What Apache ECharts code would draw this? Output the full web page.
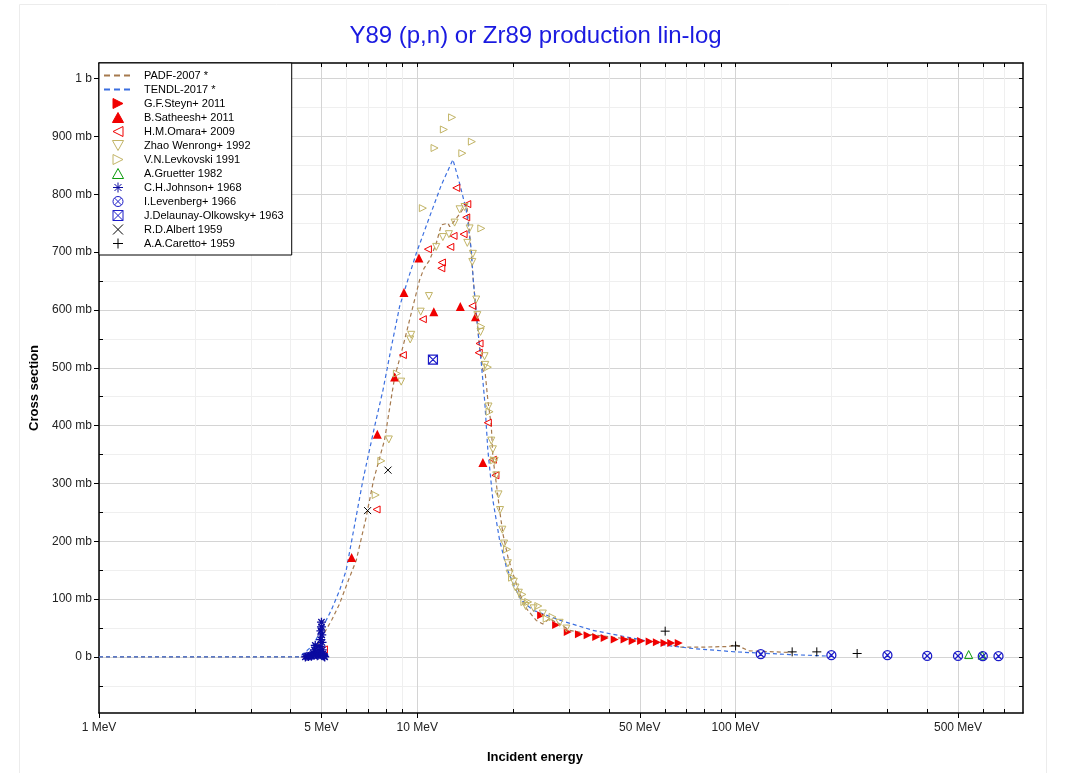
<!DOCTYPE html>
<html>
<head>
<meta charset="utf-8">
<script src="https://cdn.jsdelivr.net/npm/echarts@6/dist/echarts.min.js"></script>
<style>
html, body { margin: 0; padding: 0; background: #fff; }
#chart { width: 1071px; height: 773px; }
</style>
</head>
<body>
<div id="chart"></div>
<script>
// tick positions
var xMajor = [1, 5, 10, 50, 100, 500]
var xMinor = [2, 3, 4, 6, 7, 8, 9, 20, 30, 40, 60, 70, 80, 90, 200, 300, 400, 600, 700]
var yMajor = [0, 100, 200, 300, 400, 500, 600, 700, 800, 900, 1000]
var yMinor = [-50, 50, 150, 250, 350, 450, 550, 650, 750, 850, 950]

// evaluated curves  [MeV, mb]
var padf2007 = [[1, 0], [4.49, 0], [4.8, 15], [5.05, 37], [5.4, 65], [5.7, 92], [6.1, 135], [6.43, 167], [6.9, 240],
  [7.29, 306], [7.89, 375], [8.49, 484], [9.01, 536], [9.57, 594], [10.17, 652], [10.5, 672], [10.93, 686], [11.47, 715],
  [11.9, 747], [12.48, 750], [12.65, 744], [13.26, 758], [14.08, 778], [14.3, 783], [14.6, 732], [14.95, 660], [15.32, 594],
  [15.69, 536], [16.07, 496], [16.35, 490], [16.66, 444], [17.08, 400], [17.28, 345], [17.71, 300], [18.14, 254], [18.58, 213],
  [19.26, 173], [19.97, 144], [20.96, 110], [22, 84], [23.65, 63], [24.8, 57], [26, 66], [28, 57], [30.1, 46], [35, 39],
  [40.2, 34.6], [50, 29], [60, 24], [66.6, 17], [80, 17], [95, 18], [100, 21], [110, 10.5], [150, 7.5]]
var tendl2017 = [[1, 0], [4.27, 0], [4.7, 20], [5.05, 52], [5.37, 81], [5.7, 115], [5.98, 150], [6.75, 306], [7.34, 398],
  [7.8, 461], [8.29, 536], [8.8, 606], [9.34, 652], [9.93, 698], [10.93, 761], [11.9, 816], [12.94, 860], [13.58, 819],
  [14.25, 773], [14.78, 704], [15, 650], [15.5, 565], [15.89, 508], [16.3, 440], [16.66, 358], [17.28, 271], [18.14, 202],
  [19.03, 156], [20.21, 121], [21.21, 98], [23.07, 81], [28, 63.5], [35.6, 46], [50, 30], [60.5, 20], [73.4, 14.5],
  [100, 8.7], [147.6, 4.1], [200, 1.2]]

// measurements [MeV, mb]
var steyn2011 = [[24.5, 72], [27.3, 55], [29.7, 43], [32.2, 39], [34.3, 37.5], [36.5, 34.6], [38.8, 32.9], [41.7, 30],
  [44.8, 30], [47.5, 27.7], [50.5, 27.7], [53.7, 26.6], [56.6, 25.4], [59.8, 24.2], [62.8, 24.2], [66.3, 24.2]]
var satheesh2011 = [[6.22, 172], [7.49, 385], [8.49, 484], [9.08, 630], [10.12, 690], [11.27, 597], [13.65, 606],
  [15.24, 588], [16.07, 336]]
var omara2009 = [[5.09, 13], [7.45, 255], [9.01, 522], [10.41, 584], [10.8, 705], [11.9, 672], [11.95, 682], [12.7, 709],
  [13.0, 728], [13.26, 811], [13.98, 731], [14.25, 760], [14.36, 783], [14.89, 607], [15.6, 526], [15.69, 542],
  [16.66, 405], [17.28, 341], [17.6, 314]]
var zhao1992 = [[8.14, 376], [8.9, 476], [9.5, 549], [9.57, 557], [10.25, 597], [10.88, 624], [11.47, 709], [12.03, 726],
  [12.57, 731], [13.1, 751], [13.58, 774], [14.08, 778], [14.36, 716], [14.6, 741], [14.95, 697], [14.89, 683],
  [15.32, 618], [15.44, 591], [15.8, 562], [16.27, 520], [16.35, 505], [16.74, 433], [17.08, 374], [17.28, 359],
  [17.5, 339], [17.71, 314], [18.0, 281], [18.2, 254], [18.5, 220], [18.74, 196], [19.26, 162], [19.5, 144], [20.1, 130],
  [20.35, 120], [20.85, 111], [21.9, 88], [23.2, 84], [24.8, 75], [28.0, 59], [29.4, 49]]
var levkovski1991 = [[7.4, 280], [7.71, 339], [8.63, 490], [10.41, 776], [11.33, 880], [12.12, 912], [12.86, 933],
  [13.85, 871], [14.84, 891], [15.89, 741], [15.89, 571], [16.66, 501], [16.87, 424], [17.4, 340], [19.15, 186],
  [19.85, 137], [21.4, 108], [21.7, 95], [22.3, 95], [24.0, 88], [25.5, 66], [26.6, 69]]
var gruetter1982 = [[540, 4], [595, 3]]
var johnson1968 = [[4.45, 0], [4.5, 1], [4.55, 0.5], [4.6, 2], [4.65, 1], [4.7, 3], [4.72, 6], [4.75, 12], [4.78, 20],
  [4.8, 8], [4.82, 4], [4.85, 2], [4.88, 3], [4.9, 5], [4.92, 10], [4.95, 18], [4.97, 30], [4.98, 45], [5.0, 52],
  [5.0, 60], [5.01, 38], [5.02, 25], [5.03, 12], [5.05, 5], [5.08, 2], [5.1, 1], [5.12, 0]]
var levenberg1966 = [[120, 4.7], [200, 3], [300, 3], [400, 1.7], [500, 1.7], [598, 1.2], [670, 1.2]]
var delaunay1963 = [[11.2, 514]]
var albert1959 = [[6.98, 253], [8.09, 323]]
var caretto1959 = [[60.1, 44.5], [100, 19], [150.6, 8.7], [180, 8.7], [241, 5.9]]

var symRight = 'path://M0,0 L10,5 L0,10 Z'
var symLeft = 'path://M10,0 L0,5 L10,10 Z'
var symDown = 'path://M0,0 L10,0 L5,9 Z'
var symUp = 'path://M5,0 L10,9 L0,9 Z'
var symStar = 'path://M5,0 L5,10 M0,5 L10,5 M1.5,1.5 L8.5,8.5 M8.5,1.5 L1.5,8.5'
var symCircX = 'path://M10,5 A5,5 0 1 1 0,5 A5,5 0 1 1 10,5 Z M1.6,1.6 L8.4,8.4 M8.4,1.6 L1.6,8.4'
var symSqX = 'path://M0,0 L10,0 L10,10 L0,10 Z M0,0 L10,10 M10,0 L0,10'
var symX = 'path://M0,0 L10,10 M10,0 L0,10'
var symPlus = 'path://M5,0 L5,10 M0,5 L10,5'

var clear = 'rgba(0,0,0,0)'

function curve(name, data, color) {
  return {
    name: name, type: 'line', data: data, xAxisIndex: 0, yAxisIndex: 0,
    showSymbol: false, symbol: 'none', z: 3,
    itemStyle: { color: color },
    lineStyle: { color: color, width: 1.2, type: [4, 3] }
  }
}

function pts(name, data, symbol, size, fill, stroke, bw) {
  return {
    name: name, type: 'scatter', data: data, xAxisIndex: 0, yAxisIndex: 0,
    symbol: symbol, symbolSize: size, z: 4,
    itemStyle: { color: fill, borderColor: stroke, borderWidth: bw, opacity: 1 }
  }
}

var series = [
  curve('PADF-2007 *', padf2007, '#a67a4e'),
  curve('TENDL-2017 *', tendl2017, '#3b6fe0'),
  pts('G.F.Steyn+ 2011', steyn2011, symRight, 8, '#f00000', '#f00000', 0),
  pts('B.Satheesh+ 2011', satheesh2011, symUp, 9, '#f00000', '#f00000', 0),
  pts('H.M.Omara+ 2009', omara2009, symLeft, 7, clear, '#f00000', 1),
  pts('Zhao Wenrong+ 1992', zhao1992, symDown, 7, clear, '#c2b466', 1),
  pts('V.N.Levkovski 1991', levkovski1991, symRight, 7, clear, '#c2b466', 1),
  pts('A.Gruetter 1982', gruetter1982, symUp, 8, clear, '#0a9a0a', 1),
  pts('C.H.Johnson+ 1968', johnson1968, symStar, 9, clear, '#0a0aa0', 1.3),
  pts('I.Levenberg+ 1966', levenberg1966, symCircX, 9, clear, '#1c1cc8', 1.3),
  pts('J.Delaunay-Olkowsky+ 1963', delaunay1963, symSqX, 9, clear, '#1c1cc8', 1.2),
  pts('R.D.Albert 1959', albert1959, symX, 7, clear, '#000', 1),
  pts('A.A.Caretto+ 1959', caretto1959, symPlus, 9, clear, '#000', 1)
]

// legend entries: the two curves show only a dashed line
var legendItems = series.map(function (s) {
  if (s.type === 'line') {
    return {
      name: s.name,
      itemStyle: { color: clear, borderColor: clear, borderWidth: 0 },
      lineStyle: { type: [6, 4], width: 2 }
    }
  }
  return { name: s.name }
})

var myChart = echarts.init(document.getElementById('chart'))

var gridBox = { left: 99, right: 48, top: 63, bottom: 60 }

option = {
  animation: false,
  backgroundColor: '#fff',
  textStyle: { fontFamily: 'Liberation Sans, Arial, sans-serif' },
  title: {
    text: 'Y89 (p,n) or Zr89 production lin-log',
    left: 'center', top: 19,
    textStyle: { color: '#1a1ae0', fontSize: 24, fontWeight: 'normal' }
  },
  graphic: [{
    type: 'rect', silent: true, z: -10,
    shape: { x: 19.5, y: 4.5, width: 1027, height: 800 },
    style: { fill: 'none', stroke: '#ececec', lineWidth: 1 }
  }],
  legend: {
    left: 99, top: 63, orient: 'vertical',
    backgroundColor: '#fff', borderColor: '#000', borderWidth: 1,
    padding: [7, 8, 6, 4], itemWidth: 28, itemHeight: 10, itemGap: 3,
    itemStyle: { borderWidth: 1 },
    textStyle: { fontSize: 11, color: '#000', padding: [0, 0, 0, 7] },
    data: legendItems,
    z: 10
  },
  grid: [
    Object.assign({}, gridBox),
    Object.assign({}, gridBox)
  ],
  xAxis: [
    {
      type: 'log', logBase: 10, min: 1, max: 800, gridIndex: 0, position: 'bottom',
      axisLine: { show: true, onZero: false, lineStyle: { color: '#000', width: 1.5 } },
      axisTick: { show: true, customValues: xMajor, length: 5, lineStyle: { color: '#000' } },
      axisLabel: { customValues: xMajor, formatter: function (v) { return v + ' MeV' }, fontSize: 12, color: '#222', margin: 9 },
      splitLine: { show: true, lineStyle: { color: '#d4d4d4' } },
      name: 'Incident energy', nameLocation: 'middle', nameGap: 38,
      nameTextStyle: { fontWeight: 'bold', fontSize: 13, color: '#000', padding: [0, 52, 0, 0] }
    },
    {
      type: 'log', logBase: 10, min: 1, max: 800, gridIndex: 0, position: 'top',
      axisLine: { show: true, onZero: false, lineStyle: { color: '#000', width: 1.5 } },
      axisTick: { show: true, inside: true, customValues: xMajor.concat(xMinor), length: 4, lineStyle: { color: '#000' } },
      axisLabel: { show: false },
      splitLine: { show: false }
    },
    {
      type: 'log', logBase: 10, min: 1, max: 800, gridIndex: 1, position: 'bottom',
      axisLine: { show: false, onZero: false },
      axisTick: { show: true, inside: true, customValues: xMinor, length: 4, lineStyle: { color: '#000' } },
      axisLabel: { show: false },
      splitLine: { show: true, lineStyle: { color: '#efefef' } }
    }
  ],
  yAxis: [
    {
      type: 'value', min: -97, max: 1027, gridIndex: 0, position: 'left',
      axisLine: { show: true, onZero: false, lineStyle: { color: '#000', width: 1.5 } },
      axisTick: { show: true, customValues: yMajor, length: 5, lineStyle: { color: '#000' } },
      axisLabel: {
        customValues: yMajor, fontSize: 12, color: '#222', margin: 7,
        formatter: function (v) { return v === 0 ? '0 b' : v === 1000 ? '1 b' : v + ' mb' }
      },
      splitLine: { show: true, lineStyle: { color: '#d4d4d4' } },
      name: 'Cross section', nameLocation: 'middle', nameGap: 56,
      nameTextStyle: { fontWeight: 'bold', fontSize: 13, color: '#000' }
    },
    {
      type: 'value', min: -97, max: 1027, gridIndex: 0, position: 'right',
      axisLine: { show: true, onZero: false, lineStyle: { color: '#000', width: 1.5 } },
      axisTick: { show: true, inside: true, customValues: yMajor.concat(yMinor), length: 4, lineStyle: { color: '#000' } },
      axisLabel: { show: false },
      splitLine: { show: false }
    },
    {
      type: 'value', min: -97, max: 1027, gridIndex: 1, position: 'left',
      axisLine: { show: false, onZero: false },
      axisTick: { show: true, inside: true, customValues: yMinor, length: 4, lineStyle: { color: '#000' } },
      axisLabel: { show: false },
      splitLine: { show: true, lineStyle: { color: '#efefef' } }
    }
  ],
  series: series
}

myChart.setOption(option)
</script>
</body>
</html>
